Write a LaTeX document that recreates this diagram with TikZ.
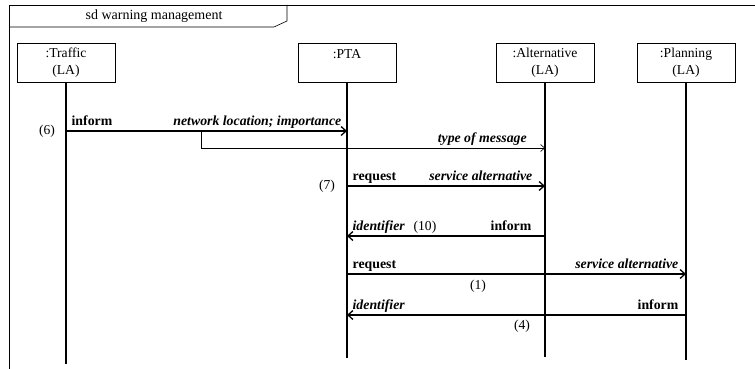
\documentclass[tikz,border=0pt]{standalone}
\usepackage{fontspec}
\setmainfont{Liberation Serif}
\usetikzlibrary{positioning, arrows.meta}
\tikzset{
	lifebox/.style={
			draw=black,
			semithick,
			fill=white,
			minimum width=98pt,
			minimum height=39pt,
			inner sep=1pt,
			align=center,
			font=\fontsize{13.6}{17}\selectfont
		},
	lifeline/.style={
			line width=1.3pt
		},
	msg/.style={
			line width=1.3pt,
			-{Straight Barb[length=5pt,width=9pt]}
		},
	thinmsg/.style={
			semithick,
			-{Straight Barb[length=4pt,width=7pt]}
		},
	msgname/.style={
			font=\bfseries\fontsize{13.8}{15}\selectfont,
			inner sep=5pt,
			text depth=0pt
		},
	msgarg/.style={
			msgname,
			font=\bfseries\itshape\fontsize{13.8}{15}\selectfont
		},
	seqnum/.style={
			font=\fontsize{13.6}{15}\selectfont,
			inner sep=1pt
		}
}

\begin{document}
\begin{tikzpicture}[x=1pt, y=-1pt]
    \useasboundingbox (0,0) rectangle (755,369);

    % frame
    \draw[semithick] (9,369) -- (9,5) -- (755,5);
    \draw[semithick] (9,27) -- (274,27) -- (287,21) -- (287,5);
    \node[font=\fontsize{14}{15}\selectfont] (title) at (154,16) {sd warning management};

    % lifelines
    \node[lifebox] (traffic) at (66,62.5)  {:Traffic\\(LA)};
    \node[lifebox] (pta)     at (347,62.5) {:PTA\\\mbox{}};
    \node[lifebox] (alt)     at (545,62.5) {:Alternative\\(LA)};
    \node[lifebox] (plan)    at (686,62.5) {:Planning\\(LA)};

    \coordinate (trafficend) at (traffic.south |- 0,364);
    \coordinate (ptaend)     at (pta.south |- 0,358);
    \coordinate (altend)     at (alt.south |- 0,357);
    \coordinate (planend)    at (plan.south |- 0,360);

    \draw[lifeline] (traffic) -- (trafficend);
    \draw[lifeline] (pta) -- (ptaend);
    \draw[lifeline] (alt) -- (altend);
    \draw[lifeline] (plan) -- (planend);

    % messages
    \draw[msg] (traffic.south |- 0,131) --
        node[pos=0, above right, msgname] {inform}
        node[pos=1, above left, msgarg] {network location; importance} (pta.south |- 0,131);
    \node[seqnum] (n6) at (47,131) {(6)};

    \coordinate (fork) at (201,131);
    \draw[thinmsg] (fork) -- (fork |- 0,148) --
        node[pos=1, above left, msgarg, xshift=-13pt] {type of message} (alt.south |- 0,148);

    \draw[msg] (pta.south |- 0,186) --
        node[pos=0, above right, msgname] {request}
        node[pos=1, above left, msgarg, xshift=-7pt] {service alternative} (alt.south |- 0,186);
    \node[seqnum] (n7) at (327,186) {(7)};

    \draw[msg] (alt.south |- 0,236) --
        node[pos=0, above left, msgname, xshift=-8pt] {inform}
        node[pos=1, above right, msgarg] (id1) {identifier} (pta.south |- 0,236);
    \node[seqnum, right=2pt of id1.base east, anchor=base west] (n10) {(10)};

    \draw[msg] (pta.south |- 0,274) --
        node[pos=0, above right, msgname] {request}
        node[pos=1, above left, msgarg, xshift=-2pt] {service alternative} (plan.south |- 0,274);
    \node[seqnum] (n1) at (478,286) {(1)};

    \draw[msg] (plan.south |- 0,315) --
        node[pos=0, above left, msgname, xshift=-2pt] {inform}
        node[pos=1, above right, msgarg] {identifier} (pta.south |- 0,315);
    \node[seqnum] (n4) at (522,326) {(4)};
\end{tikzpicture}
\end{document}
